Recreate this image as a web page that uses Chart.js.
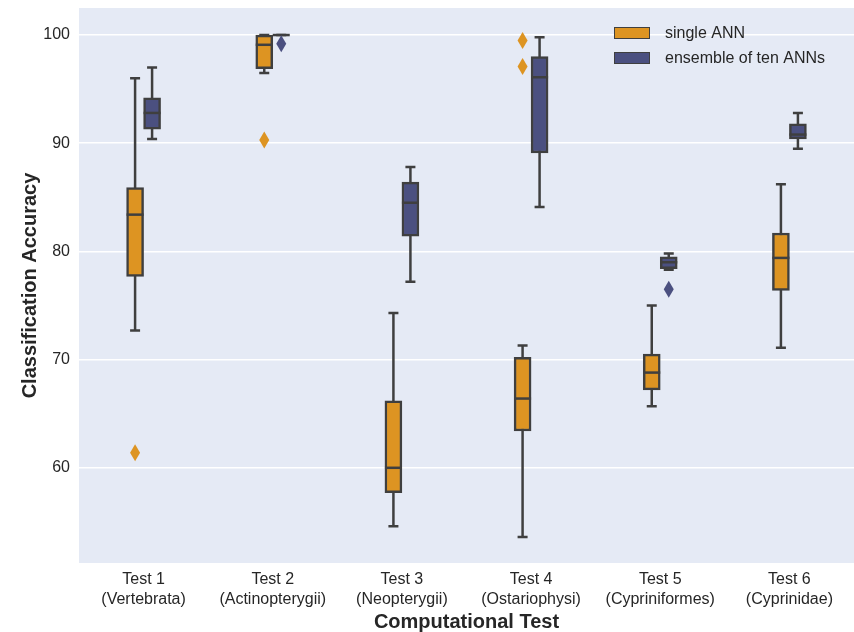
<!DOCTYPE html>
<html>
<head>
<meta charset="utf-8">
<script src="https://cdn.jsdelivr.net/npm/chart.js@4.4.1/dist/chart.umd.min.js"></script>
<style>
html,body{margin:0;padding:0;background:#fff;}
#wrap{width:854px;height:632px;}
</style>
</head>
<body>
<div id="wrap"><canvas id="c" width="854" height="632"></canvas></div>
<script>
const categories = [
  ["Test 1","(Vertebrata)"],
  ["Test 2","(Actinopterygii)"],
  ["Test 3","(Neopterygii)"],
  ["Test 4","(Ostariophysi)"],
  ["Test 5","(Cypriniformes)"],
  ["Test 6","(Cyprinidae)"]
];
const seriesNames = ["single ANN", "ensemble of ten ANNs"];
const yTicks = [60, 70, 80, 90, 100];

// single ANN
const singleLo  = [72.7, 96.5, 54.6, 53.6, 65.7, 71.1];
const singleQ1  = [77.7, 96.9, 57.7, 63.4, 67.2, 76.4];
const singleMed = [83.4, 99.1, 60.0, 66.4, 68.8, 79.4];
const singleQ3  = [85.9, 100.0, 66.2, 70.2, 70.5, 81.7];
const singleHi  = [96.0, 100.0, 74.3, 71.3, 75.0, 86.2];
const singleOut = [[61.4], [90.3], [], [99.5, 97.1], [], []];

// ensemble of ten ANNs
const ensLo  = [90.4, 100.0, 77.2, 84.1, 78.3, 89.5];
const ensQ1  = [91.3, 100.0, 81.4, 89.1, 78.4, 90.4];
const ensMed = [92.8, 100.0, 84.5, 96.1, 79.0, 90.8];
const ensQ3  = [94.2, 100.0, 86.4, 98.0, 79.5, 91.8];
const ensHi  = [97.0, 100.0, 87.8, 99.8, 79.8, 92.8];
const ensOut = [[], [99.2], [], [], [76.5], []];

const ORANGE = "#dd9422";
const BLUE = "#4b5080";
const LINE = "#3f3f3f";
const BG = "#e5eaf5";
const TXT = "#262626";
const FONT = '"Liberation Sans", Arial, sans-serif';

const stats = [
  {lo: singleLo, med: singleMed, hi: singleHi, out: singleOut, color: ORANGE},
  {lo: ensLo, med: ensMed, hi: ensHi, out: ensOut, color: BLUE}
];

const boxPlugin = {
  id: 'boxparts',
  beforeDraw(chart) {
    const {ctx, chartArea: a} = chart;
    ctx.save();
    ctx.fillStyle = BG;
    ctx.fillRect(a.left, a.top, a.right - a.left, a.bottom - a.top);
    ctx.restore();
  },
  beforeDatasetsDraw(chart) {
    const {ctx} = chart;
    const y = chart.scales.y;
    ctx.save();
    ctx.strokeStyle = LINE;
    ctx.lineWidth = 2.5;
    ctx.lineCap = 'butt';
    stats.forEach((s, di) => {
      const meta = chart.getDatasetMeta(di);
      meta.data.forEach((bar, i) => {
        const x = bar.x;
        const yl = y.getPixelForValue(s.lo[i]);
        const yh = y.getPixelForValue(s.hi[i]);
        ctx.beginPath();
        ctx.moveTo(x, yl); ctx.lineTo(x, yh);
        ctx.stroke();
        const cw = 5;
        ctx.beginPath();
        ctx.moveTo(x - cw, yl); ctx.lineTo(x + cw, yl);
        ctx.moveTo(x - cw, yh); ctx.lineTo(x + cw, yh);
        ctx.stroke();
      });
    });
    ctx.restore();
  },
  afterDatasetsDraw(chart) {
    const {ctx} = chart;
    const y = chart.scales.y;
    ctx.save();
    stats.forEach((s, di) => {
      const meta = chart.getDatasetMeta(di);
      meta.data.forEach((bar, i) => {
        const x = bar.x;
        const hw = bar.width / 2;
        const ym = y.getPixelForValue(s.med[i]);
        ctx.strokeStyle = LINE;
        ctx.lineWidth = 2.5;
        ctx.beginPath();
        ctx.moveTo(x - hw, ym); ctx.lineTo(x + hw, ym);
        ctx.stroke();
        ctx.fillStyle = s.color;
        s.out[i].forEach(v => {
          const yo = y.getPixelForValue(v);
          ctx.beginPath();
          ctx.moveTo(x, yo - 8.5);
          ctx.lineTo(x + 5, yo);
          ctx.lineTo(x, yo + 8.5);
          ctx.lineTo(x - 5, yo);
          ctx.closePath();
          ctx.fill();
        });
      });
    });
    // legend
    const lx = 614, ly = [33, 58];
    chart.data.datasets.forEach((ds, di) => {
      ctx.fillStyle = ds.backgroundColor;
      ctx.fillRect(lx, ly[di] - 6, 36, 12);
      ctx.strokeStyle = LINE;
      ctx.lineWidth = 1;
      ctx.strokeRect(lx + 0.5, ly[di] - 5.5, 35, 11);
      ctx.fillStyle = TXT;
      ctx.font = '16px ' + FONT;
      ctx.textBaseline = 'middle';
      ctx.textAlign = 'left';
      ctx.fillText(ds.label, 665, ly[di] + 1);
    });
    ctx.restore();
  }
};

new Chart(document.getElementById('c'), {
  type: 'bar',
  data: {
    labels: categories,
    datasets: [
      {
        label: seriesNames[0],
        data: singleQ1.map((v, i) => [v, singleQ3[i]]),
        backgroundColor: ORANGE,
        borderColor: LINE,
        borderWidth: 2.5,
        borderSkipped: false,
        barThickness: 17
      },
      {
        label: seriesNames[1],
        data: ensQ1.map((v, i) => [v, ensQ3[i]]),
        backgroundColor: BLUE,
        borderColor: LINE,
        borderWidth: 2.5,
        borderSkipped: false,
        barThickness: 17
      }
    ]
  },
  options: {
    responsive: false,
    animation: false,
    layout: {padding: {top: 8, left: 0, right: 0, bottom: 0}},
    plugins: {
      legend: {display: false},
      tooltip: {enabled: false}
    },
    scales: {
      x: {
        grid: {display: false},
        border: {display: false},
        ticks: {
          color: TXT,
          font: {family: FONT, size: 16, lineHeight: 1.25},
          padding: -1,
          maxRotation: 0,
          autoSkip: false
        },
        title: {
          display: true,
          text: 'Computational Test',
          color: TXT,
          font: {family: FONT, size: 20, weight: 'bold', lineHeight: 1.0},
          padding: {top: 0, bottom: 0}
        },
        afterFit(scale) { scale.height = 69; scale.paddingLeft = 0; scale.paddingRight = 0; }
      },
      y: {
        min: 51.2,
        max: 102.5,
        grid: {color: '#ffffff', lineWidth: 1.5, drawTicks: false},
        border: {display: false},
        ticks: {
          color: TXT,
          font: {family: FONT, size: 16},
          padding: 9
        },
        afterBuildTicks(scale) { scale.ticks = yTicks.map(v => ({value: v})); },
        title: {
          display: true,
          text: 'Classification Accuracy',
          color: TXT,
          font: {family: FONT, size: 20, weight: 'bold', lineHeight: 1.2},
          padding: {top: 18, bottom: 0}
        },
        afterFit(scale) { scale.width = 79; scale.paddingTop = 0; scale.paddingBottom = 0; }
      }
    }
  },
  plugins: [boxPlugin]
});
</script>
</body>
</html>
